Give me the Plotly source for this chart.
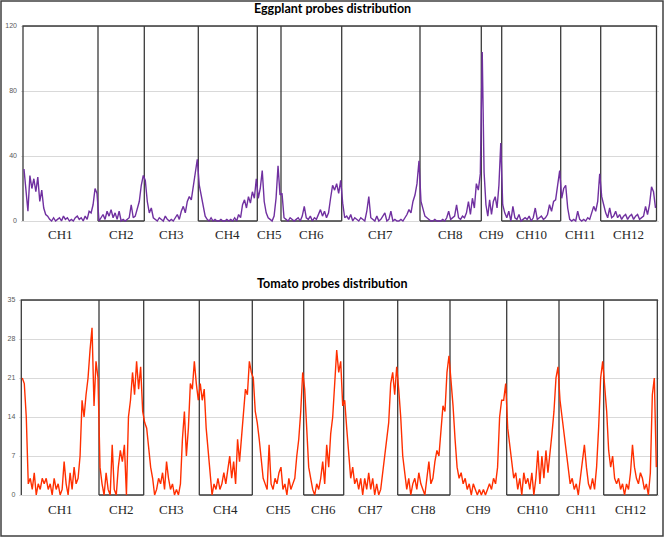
import plotly.graph_objects as go

# ---------------- data ----------------
chromosomes = ["CH1", "CH2", "CH3", "CH4", "CH5", "CH6",
               "CH7", "CH8", "CH9", "CH10", "CH11", "CH12"]

# relative chromosome lengths (as drawn)
eggplant_len = [75, 46.3, 54, 59, 23.7, 60.7, 78.3, 61.3, 20.4, 59, 40, 55.8]
tomato_len = [77.7, 44.7, 55.6, 53, 51.4, 40, 54, 52.3, 56.7, 52.3, 44.7, 53.6]

# eggplant probe counts per bin, by chromosome
egg_ch1 = [32, 20, 6, 28, 20, 26, 18, 27, 12, 19, 8, 4, 3, 1, 0, 2, 0, 1, 2, 0, 3, 1, 2, 0, 1, 0, 2, 3, 1, 2, 0, 3, 1, 6, 5, 10, 20, 17]
egg_ch2 = [0, 2, 4, 1, 6, 3, 7, 2, 5, 1, 6, 0, 1, 0, 1, 2, 10, 2, 3, 8, 12, 22, 28]
egg_ch3 = [25, 12, 5, 8, 2, 1, 0, 2, 1, 0, 3, 1, 0, 1, 0, 2, 4, 1, 6, 9, 5, 12, 15, 13, 22, 28, 38]
egg_ch4 = [22, 15, 8, 3, 1, 0, 2, 0, 1, 0, 0, 1, 0, 0, 1, 0, 1, 0, 2, 0, 4, 2, 10, 13, 8, 15, 11, 18, 14, 26]
egg_ch5 = [14, 20, 31, 12, 5, 2, 1, 0, 3, 14, 34, 16]
egg_ch6 = [17, 2, 1, 0, 2, 1, 0, 1, 2, 0, 3, 9, 2, 1, 3, 0, 2, 1, 4, 7, 3, 6, 2, 5, 14, 22, 19, 23, 17, 25]
egg_ch7 = [11, 2, 3, 1, 4, 0, 2, 1, 0, 2, 1, 0, 6, 15, 2, 1, 0, 3, 0, 1, 3, 5, 0, 1, 6, 0, 1, 0, 0, 1, 0, 2, 4, 7, 5, 12, 16, 23, 37]
egg_ch8 = [12, 8, 3, 2, 1, 0, 0, 1, 0, 0, 0, 1, 0, 2, 6, 1, 2, 3, 10, 2, 1, 3, 2, 5, 12, 4, 14, 8, 23, 19, 29]
egg_ch9 = [104, 30, 10, 3, 13, 4, 12, 15, 8, 22, 48]
egg_ch10 = [10, 5, 2, 6, 0, 9, 2, 1, 4, 0, 1, 2, 1, 3, 0, 2, 8, 1, 2, 3, 1, 2, 4, 10, 6, 12, 13, 24, 31]
egg_ch11 = [14, 20, 22, 8, 1, 0, 1, 0, 6, 1, 0, 1, 0, 2, 1, 5, 9, 6, 12, 29]
egg_ch12 = [15, 10, 5, 2, 8, 2, 3, 6, 2, 4, 1, 3, 4, 1, 3, 4, 1, 3, 4, 1, 2, 3, 9, 4, 10, 21, 18, 8]

# tomato probe counts per bin, by chromosome
tom_ch1 = [21, 20, 14, 2, 3, 1, 4, 0, 2, 1, 3, 2, 3, 1, 2, 0, 3, 1, 2, 0, 1, 6, 2, 0, 4, 1, 5, 2, 3, 7, 17, 14, 18, 21, 26, 30, 16, 24, 21]
tom_ch2 = [5, 2, 0, 4, 1, 0, 9, 1, 0, 5, 8, 6, 9, 0, 14, 17, 22, 18, 24, 19, 23, 15]
tom_ch3 = [13, 12, 8, 5, 3, 0, 1, 3, 2, 4, 1, 6, 3, 1, 2, 0, 1, 0, 2, 10, 15, 7, 12, 20, 19, 24, 20, 17]
tom_ch4 = [20, 17, 19, 12, 8, 4, 0, 2, 1, 3, 1, 2, 4, 2, 5, 7, 3, 6, 2, 10, 6, 10, 14, 19, 18, 24, 22]
tom_ch5 = [21, 15, 13, 10, 6, 3, 2, 1, 9, 2, 1, 3, 2, 4, 5, 1, 2, 0, 3, 1, 2, 3, 7, 10, 15, 22]
tom_ch6 = [19, 11, 5, 3, 1, 0, 2, 1, 3, 6, 2, 9, 5, 11, 14, 20, 26, 22, 24, 16]
tom_ch7 = [17, 12, 7, 3, 5, 2, 3, 1, 3, 0, 3, 1, 4, 1, 3, 0, 2, 0, 1, 4, 6, 9, 13, 20, 22, 18, 23]
tom_ch8 = [19, 14, 7, 4, 1, 3, 0, 2, 3, 1, 4, 2, 1, 0, 3, 6, 2, 3, 6, 8, 7, 12, 16, 15, 22, 25]
tom_ch9 = [21, 16, 10, 5, 3, 4, 2, 3, 1, 2, 0, 2, 1, 0, 1, 0, 1, 0, 1, 2, 1, 3, 2, 5, 14, 17, 17, 20]
tom_ch10 = [12, 9, 5, 3, 4, 1, 3, 0, 4, 2, 3, 1, 4, 0, 3, 8, 2, 7, 3, 8, 4, 7, 11, 15, 21, 23]
tom_ch11 = [17, 14, 11, 8, 5, 2, 3, 1, 2, 0, 3, 6, 9, 5, 2, 1, 3, 1, 5, 12, 21, 24]
tom_ch12 = [20, 15, 8, 5, 7, 3, 2, 3, 1, 2, 0, 2, 1, 4, 9, 5, 3, 2, 4, 3, 1, 2, 0, 4, 18, 21, 5]

eggplant_values = [egg_ch1, egg_ch2, egg_ch3, egg_ch4, egg_ch5, egg_ch6,
                   egg_ch7, egg_ch8, egg_ch9, egg_ch10, egg_ch11, egg_ch12]
tomato_values = [tom_ch1, tom_ch2, tom_ch3, tom_ch4, tom_ch5, tom_ch6,
                 tom_ch7, tom_ch8, tom_ch9, tom_ch10, tom_ch11, tom_ch12]

egg_ticks = [0, 40, 80, 120]
tom_ticks = [0, 7, 14, 21, 28, 35]

# ---------------- helpers ----------------
W, H = 666, 539


def px_x(p):
    return p / W


def px_y(p):
    return 1 - p / H


def series(lengths, values):
    xs, ys, starts = [], [], []
    s = 0.0
    for L, vals in zip(lengths, values):
        starts.append(s)
        n = len(vals)
        for i, v in enumerate(vals):
            xs.append(s + (i + 0.5) * L / n)
            ys.append(v)
        s += L
    return xs, ys, starts, s


def frame(lengths, ymax):
    xs, ys = [], []
    s = 0.0
    total = sum(lengths)
    xs += [0, 0, total, total, None]
    ys += [0, ymax, ymax, 0, None]
    for k, L in enumerate(lengths):
        e = s + L
        if k < len(lengths) - 1:
            xs += [e, e, None]
            ys += [0, ymax, None]
        if k % 2 == 1:
            xs += [s, e, None]
            ys += [0, 0, None]
        s = e
    return xs, ys


fig = go.Figure()
frame_color = "#3a3a3a"

panels = [
    dict(lengths=eggplant_len, values=eggplant_values, ymax=120, ticks=egg_ticks,
         color="#7030A0", xa="x", ya="y", left=23, top=26, bottom=221,
         title="Eggplant probes distribution", title_y=9, label_y=234),
    dict(lengths=tomato_len, values=tomato_values, ymax=35, ticks=tom_ticks,
         color="#FF2F00", xa="x2", ya="y2", left=21.3, top=300, bottom=495,
         title="Tomato probes distribution", title_y=283, label_y=509),
]

layout_axes = {}
annotations = []
for idx, p in enumerate(panels):
    xs, ys, starts, total = series(p["lengths"], p["values"])
    fx, fy = frame(p["lengths"], p["ymax"])
    fig.add_trace(go.Scatter(x=fx, y=fy, mode="lines", xaxis=p["xa"], yaxis=p["ya"],
                             line=dict(color=frame_color, width=1.3),
                             hoverinfo="skip", showlegend=False))
    fig.add_trace(go.Scatter(x=xs, y=ys, mode="lines", xaxis=p["xa"], yaxis=p["ya"],
                             line=dict(color=p["color"], width=1.4),
                             showlegend=False))
    pad_px = 2
    ppu_x = 1.0  # lengths are in drawn pixels
    ppu_y = (p["bottom"] - p["top"]) / p["ymax"]
    pad_y = pad_px / ppu_y
    suffix = "" if idx == 0 else "2"
    layout_axes["xaxis" + suffix] = dict(
        domain=[px_x(p["left"] - pad_px), px_x(p["left"] + total + pad_px)],
        range=[-pad_px / ppu_x, total + pad_px / ppu_x],
        showgrid=False, zeroline=False, showticklabels=False, showline=False,
        anchor="y" + suffix, fixedrange=True, automargin=False)
    layout_axes["yaxis" + suffix] = dict(
        domain=[px_y(p["bottom"] + pad_px), px_y(p["top"] - pad_px)],
        range=[-pad_y, p["ymax"] + pad_y],
        tickvals=p["ticks"], ticks="", showgrid=True, gridcolor="#D9D9D9", gridwidth=1,
        zeroline=False, showline=False, anchor="x" + suffix, automargin=False,
        tickfont=dict(family="Liberation Sans", size=7, color="#595959"),
        ticklabelstandoff=3, fixedrange=True)
    for name, s, L in zip(chromosomes, starts, p["lengths"]):
        annotations.append(dict(x=s + L / 2, y=px_y(p["label_y"]), xref=p["xa"], yref="paper",
                                text=name, showarrow=False, xanchor="center", yanchor="middle",
                                font=dict(family="Liberation Serif", size=13, color="#262626")))
    annotations.append(dict(x=px_x(332), y=px_y(p["title_y"]), xref="paper", yref="paper",
                            text="<b>" + p["title"] + "</b>", showarrow=False,
                            xanchor="center", yanchor="middle",
                            font=dict(family="Lato", size=12.5, color="black")))

fig.update_layout(
    width=W, height=H,
    margin=dict(l=0, r=0, t=0, b=0, autoexpand=False),
    paper_bgcolor="white", plot_bgcolor="white",
    showlegend=False,
    annotations=annotations,
    shapes=[dict(type="rect", xref="paper", yref="paper",
                 x0=px_x(1), x1=px_x(663), y0=px_y(536), y1=px_y(1),
                 line=dict(color="#404040", width=1.5))],
    **layout_axes,
)

fig.write_html("out.html", config={"displayModeBar": False},
               post_script="document.body.style.margin='0';document.body.style.overflow='hidden';")
